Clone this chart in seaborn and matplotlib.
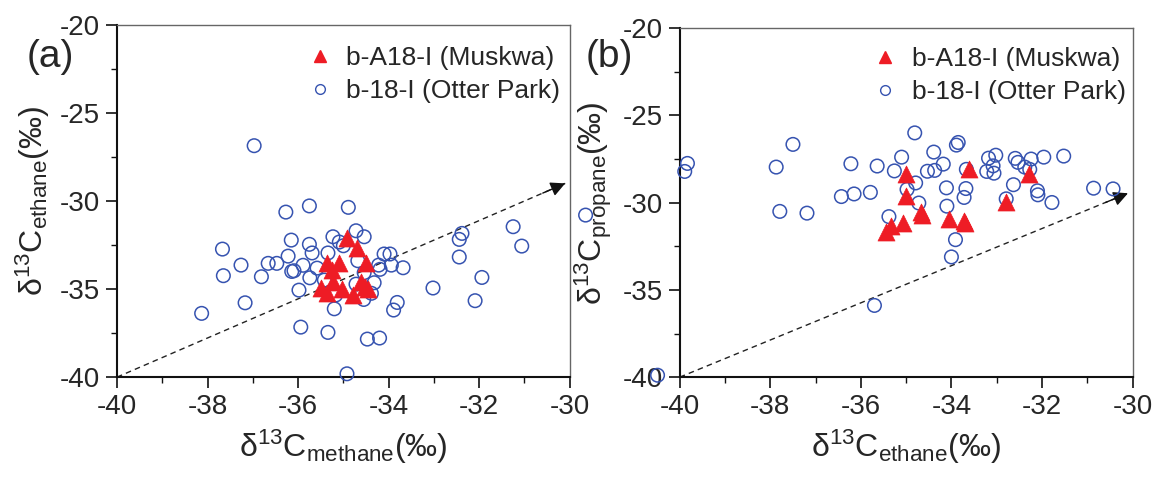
import matplotlib
matplotlib.use('Agg')
import matplotlib.pyplot as plt
import seaborn as sns
import pandas as pd
from matplotlib import font_manager
from matplotlib.ticker import MultipleLocator
from matplotlib.lines import Line2D

# ---------------- data ----------------
series_names = ['b-A18-I (Muskwa)', 'b-18-I (Otter Park)']

# panel (a): d13C methane vs d13C ethane
a_muskwa_x = [-34.91, -34.70, -35.37, -35.09, -35.26, -34.51, -35.22, -35.50,
              -35.37, -35.03, -34.60, -34.53, -34.78, -34.45]
a_muskwa_y = [-32.12, -32.69, -33.50, -33.50, -33.92, -33.54, -34.58, -34.96,
              -35.24, -35.00, -34.58, -34.87, -35.34, -35.00]
a_otter_x = [-36.97, -36.27, -35.75, -34.89, -34.72, -35.23, -35.09, -35.00, -36.15,
             -35.75, -35.69, -35.34, -37.67, -36.22, -36.66, -36.47, -37.26, -37.65,
             -36.81, -36.14, -36.09, -35.89, -35.58, -35.74, -35.42, -35.98, -35.17,
             -35.20, -34.68, -34.72, -37.17, -38.13, -35.94, -35.34, -34.92,
             -34.54, -34.10, -33.97, -34.22, -34.19, -33.94, -33.68, -34.54, -34.32,
             -34.38, -34.55, -33.81, -33.89, -34.47, -34.20, -33.02, -32.44, -32.38,
             -32.44, -31.25, -31.06, -31.94, -32.09, -29.65]
a_otter_y = [-26.86, -30.63, -30.28, -30.36, -31.69, -32.03, -32.33, -32.54, -32.22,
             -32.46, -32.95, -32.95, -32.73, -33.13, -33.54, -33.54, -33.64, -34.24,
             -34.30, -34.00, -33.96, -33.65, -33.81, -34.36, -34.49, -35.06, -35.34,
             -36.12, -33.39, -34.72, -35.78, -36.38, -37.16, -37.46, -39.81,
             -32.03, -33.01, -33.01, -33.64, -33.88, -33.64, -33.79, -34.07, -34.64,
             -35.24, -35.59, -35.76, -36.19, -37.84, -37.78, -34.94, -32.18, -31.84,
             -33.18, -31.46, -32.56, -34.34, -35.66, -30.80]
a_trend_x = [-40.0, -30.1]
a_trend_y = [-40.0, -29.0]

# panel (b): d13C ethane vs d13C propane
b_muskwa_x = [-35.01, -35.00, -35.07, -35.33, -35.44, -34.68, -34.66, -34.06,
              -33.72, -33.71, -33.62, -32.80, -32.29]
b_muskwa_y = [-28.37, -29.63, -31.15, -31.35, -31.67, -30.52, -30.70, -30.95,
              -31.03, -31.18, -28.07, -29.94, -28.37]
b_otter_x = [-39.83, -39.89, -37.87, -37.50, -37.79, -37.19, -36.22, -35.64, -35.10,
             -35.26, -36.43, -36.15, -35.79, -35.38, -34.98, -35.70, -34.81, -34.39,
             -33.85, -33.89, -34.18, -34.53, -34.37, -33.67, -34.79, -34.72, -34.11,
             -33.68, -33.72, -34.10, -33.91, -34.00, -33.18, -33.02, -33.08, -33.22,
             -33.06, -32.63, -32.59, -32.53, -32.38, -32.24, -32.27, -31.96, -31.52,
             -32.10, -32.09, -31.78, -32.79, -30.86, -30.43, -40.49]
b_otter_y = [-27.75, -28.21, -27.96, -26.66, -30.50, -30.60, -27.77, -27.90, -27.39,
             -28.18, -29.65, -29.50, -29.41, -30.80, -29.24, -35.89, -26.00, -27.10,
             -26.55, -26.70, -27.79, -28.20, -28.15, -28.09, -28.87, -30.02, -29.15,
             -29.19, -29.70, -30.20, -32.12, -33.11, -27.45, -27.28, -27.89, -28.21,
             -28.31, -28.97, -27.46, -27.69, -27.96, -27.50, -28.09, -27.39, -27.33,
             -29.32, -29.55, -29.99, -29.78, -29.17, -29.21, -39.89]
b_trend_x = [-40.0, -30.1]
b_trend_y = [-40.0, -29.46]

x_ticks = [-40, -38, -36, -34, -32, -30]
y_ticks = [-40, -35, -30, -25, -20]

# ---------------- style ----------------
sns.set_style('ticks')
names = {f.name for f in font_manager.fontManager.ttflist}
fam = 'Liberation Sans Narrow' if 'Liberation Sans Narrow' in names else 'Liberation Sans'
plt.rcParams['font.family'] = [fam, 'DejaVu Sans']
plt.rcParams['mathtext.fontset'] = 'custom'
plt.rcParams['mathtext.rm'] = fam
plt.rcParams['mathtext.it'] = fam
plt.rcParams['mathtext.default'] = 'regular'

RED = '#ee1c25'
BLUE = '#3653b0'

fig = plt.figure(figsize=(11.58, 4.78), dpi=100)
ax1 = fig.add_axes([0.101, 0.211, 0.391, 0.737])
ax2 = fig.add_axes([0.587, 0.211, 0.391, 0.730])

panels = [
    (ax1, a_muskwa_x, a_muskwa_y, a_otter_x, a_otter_y, a_trend_x, a_trend_y,
     r'$δ^{13}C_{methane}(‰)$', r'$δ^{13}C_{ethane}(‰)$', '(a)', 0.023, (1.031, 1.008)),
    (ax2, b_muskwa_x, b_muskwa_y, b_otter_x, b_otter_y, b_trend_x, b_trend_y,
     r'$δ^{13}C_{ethane}(‰)$', r'$δ^{13}C_{propane}(‰)$', '(b)', 0.506, (1.037, 1.014)),
]

for ax, mx, my, ox, oy, tx, ty, xl, yl, tag, tagx, lanchor in panels:
    ax.plot(tx, ty, ls=(0, (4, 3)), color='#222222', lw=1.0, zorder=1)
    ax.annotate('', xy=(tx[1], ty[1]),
                xytext=(tx[1] - 0.05 * (tx[1] - tx[0]), ty[1] - 0.05 * (ty[1] - ty[0])),
                arrowprops=dict(arrowstyle='-|>', color='#111111', lw=1.0,
                                mutation_scale=22, shrinkA=0, shrinkB=0),
                annotation_clip=False, zorder=2)
    dm = pd.DataFrame({'x': mx, 'y': my})
    do = pd.DataFrame({'x': ox, 'y': oy})
    sns.scatterplot(data=dm, x='x', y='y', ax=ax, marker='^', s=150, color=RED,
                    edgecolor=RED, linewidth=0.5, clip_on=False, zorder=4)
    sns.scatterplot(data=do, x='x', y='y', ax=ax, marker='o', s=95,
                    facecolor='none', edgecolor=BLUE, linewidth=1.1,
                    clip_on=False, zorder=3)
    ax.set_xlim(-40, -30)
    ax.set_ylim(-40, -20)
    ax.set_xticks(x_ticks)
    ax.set_yticks(y_ticks)
    ax.set_xticklabels([str(v) for v in x_ticks])
    ax.set_yticklabels([str(v) for v in y_ticks])
    ax.xaxis.set_minor_locator(MultipleLocator(1))
    ax.yaxis.set_minor_locator(MultipleLocator(2.5))
    ax.tick_params(which='major', direction='out', length=8, width=1.2,
                   labelsize=20, pad=4, color='#111111')
    ax.tick_params(which='minor', direction='out', length=4, width=1.0, color='#111111')
    for s in ['left', 'bottom']:
        ax.spines[s].set_color('#111111')
        ax.spines[s].set_linewidth(1.5)
    for s in ['top', 'right']:
        ax.spines[s].set_visible(True)
        ax.spines[s].set_color('#666666')
        ax.spines[s].set_linewidth(1.0)
    ax.set_xlabel(xl, fontsize=23, labelpad=6)
    ax.set_ylabel(yl, fontsize=23, labelpad=6)
    handles = [Line2D([], [], ls='none', marker='^', color=RED, markersize=9),
               Line2D([], [], ls='none', marker='o', markerfacecolor='none',
                      markeredgecolor=BLUE, markersize=7, markeredgewidth=1.0)]
    ax.legend(handles, series_names, loc='upper right', bbox_to_anchor=lanchor,
              frameon=False, fontsize=19,
              handletextpad=0.4, labelspacing=0.35, borderaxespad=0.6,
              handlelength=1.2, borderpad=0.3)
    fig.text(tagx, 0.88, tag, fontsize=28, ha='left', va='center')

fig.savefig('out.png', dpi=100)
